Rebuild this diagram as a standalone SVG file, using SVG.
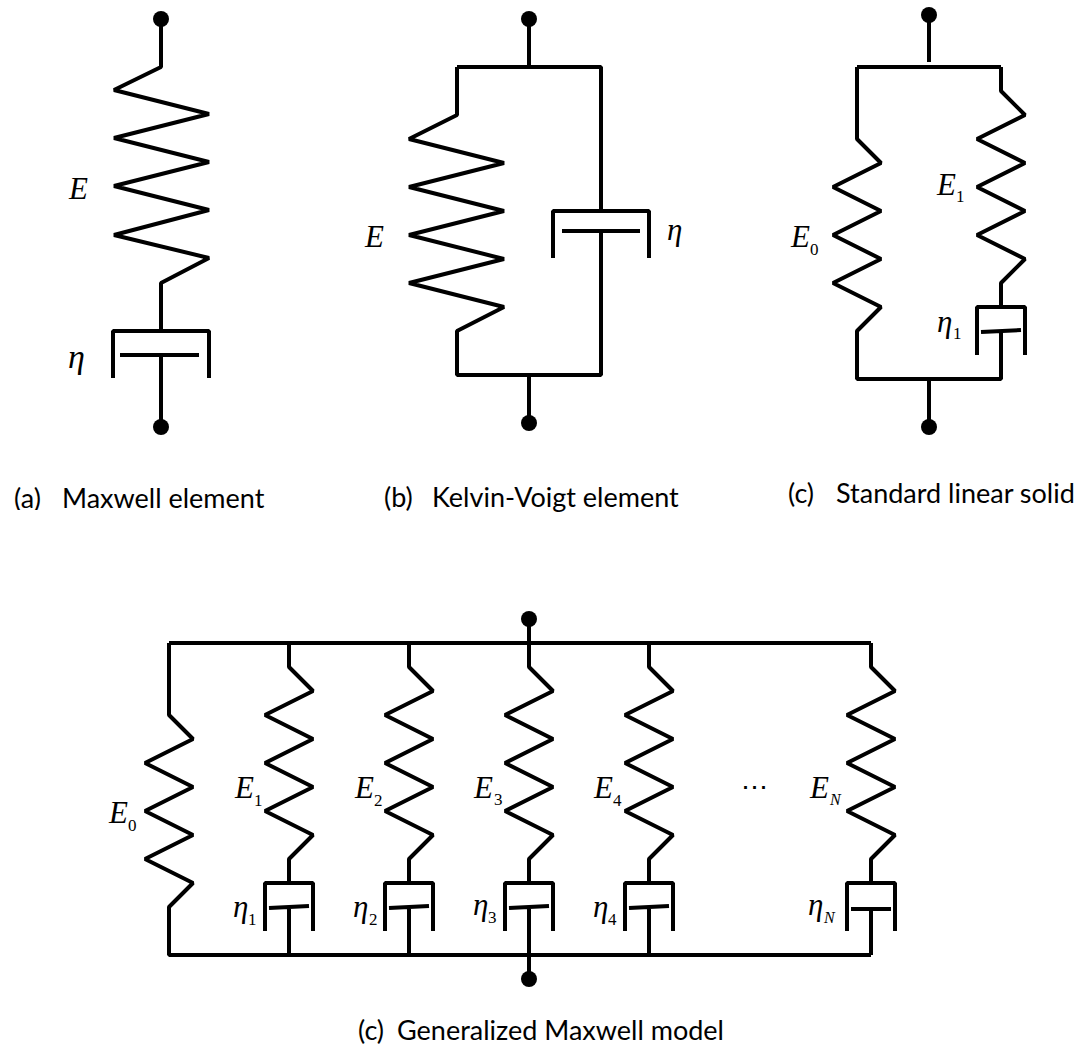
<svg xmlns="http://www.w3.org/2000/svg" width="1090" height="1044" viewBox="0 0 1090 1044">
<defs>
<style>
.w{fill:none;stroke:#000;stroke-width:4;stroke-linejoin:bevel;stroke-linecap:butt}
.d{fill:#000}
.m{font-family:"Liberation Serif",serif;font-style:italic;font-size:31px;fill:#000}
.s{font-family:"Liberation Serif",serif;font-size:17px;fill:#000}
.si{font-family:"Liberation Serif",serif;font-style:italic;font-size:16px;fill:#000}
.e{font-family:"Liberation Serif",serif;font-size:27px;fill:#000}
.c{font-family:Lato,"Open Sans",sans-serif;font-size:27px;fill:#000}
</style>
<clipPath id="ca"><rect x="0" y="470" width="300" height="40"/></clipPath>
<g id="sp"><path class="w" d="M0 0V24L24 48L-24 72L24 96L-24 120L24 144L-24 168L24 192L0 216V240"/></g>
<g id="da"><path class="w" d="M-24 48V0H24V48"/><path class="w" d="M-20 25L20 23M0 24V72"/></g>
</defs>
<rect width="1090" height="1044" fill="#fff"/>
<g id="connectors">
<path class="w" d="M161 19V67L114 90L209 114L114 138L209 162L114 186L209 210L114 235L209 258L161 283V331M113 378V331H209V378M120 355H199M161 355V427"/>
<path class="w" d="M529 19V67M457 67H601V211M457 67V115L409 139L504 163L409 187L504 211L409 235L504 259L409 283L504 307L457 331V375H601V231M553 258V211H649V258M562 231H640M529 375V423"/>
<path class="w" d="M929 15V62M857 67H1001M857 67V139L881 163L833 187L881 211L833 235L881 259L833 283L881 307L857 331V379H1001V355M929 381V427"/>
<use href="#sp" x="1001" y="67"/>
<use href="#da" x="1001" y="307"/>
<path class="w" d="M529 619V643M169 643H871M169 643V715L193 739L145 763L193 787L145 811L193 835L145 859L193 883L169 907V955H871M529 955V979"/>
<use href="#sp" x="289" y="643"/><use href="#da" x="289" y="883"/>
<use href="#sp" x="409" y="643"/><use href="#da" x="409" y="883"/>
<use href="#sp" x="529" y="643"/><use href="#da" x="529" y="883"/>
<use href="#sp" x="649" y="643"/><use href="#da" x="649" y="883"/>
<use href="#sp" x="871" y="643"/>
<path class="w" d="M847 931V883H895V931M851 909H891M871 909V955"/>
</g>
<g id="terminals">
<circle class="d" cx="161" cy="19" r="8"/><circle class="d" cx="161" cy="427" r="8"/>
<circle class="d" cx="529" cy="19" r="8"/><circle class="d" cx="529" cy="423" r="8"/>
<circle class="d" cx="929" cy="15" r="8"/><circle class="d" cx="929" cy="427" r="8"/>
<circle class="d" cx="529" cy="619" r="8"/><circle class="d" cx="529" cy="979" r="8"/>
</g>
<g id="labels">
<text class="m" x="69" y="199">E</text><text class="m" x="68" y="368" style="font-size:34px">η</text>
<text class="m" x="365" y="247">E</text><text class="m" x="667" y="240">η</text>
<text class="m" x="791" y="247">E</text><text class="s" x="810" y="255">0</text>
<text class="m" x="937" y="195">E</text><text class="s" x="956" y="202">1</text>
<text class="m" x="937" y="332">η</text><text class="s" x="953" y="339">1</text>
<text class="m" x="109" y="823">E</text><text class="s" x="128" y="831">0</text>
<text class="m" x="235" y="798">E</text><text class="s" x="254" y="806">1</text>
<text class="m" x="355" y="798">E</text><text class="s" x="374" y="806">2</text>
<text class="m" x="474" y="798">E</text><text class="s" x="494" y="805">3</text>
<text class="m" x="594" y="798">E</text><text class="s" x="613" y="806">4</text>
<text class="m" x="810" y="798">E</text><text class="si" x="830" y="805">N</text>
<text class="m" x="233" y="917">η</text><text class="s" x="248" y="925">1</text>
<text class="m" x="353" y="917">η</text><text class="s" x="369" y="925">2</text>
<text class="m" x="473" y="915">η</text><text class="s" x="488" y="923">3</text>
<text class="m" x="593" y="917">η</text><text class="s" x="608" y="925">4</text>
<text class="m" x="808" y="915">η</text><text class="si" x="824" y="923">N</text>
<text class="e" x="741" y="796">⋯</text>
<text class="c" clip-path="url(#ca)" y="508"><tspan x="14">(a)</tspan><tspan x="62">Maxwell element</tspan></text>
<text class="c" y="507"><tspan x="384">(b)</tspan><tspan x="432">Kelvin-Voigt element</tspan></text>
<text class="c" y="503"><tspan x="788">(c)</tspan><tspan x="836">Standard linear solid</tspan></text>
<text class="c" y="1040"><tspan x="358">(c)</tspan><tspan x="397">Generalized Maxwell model</tspan></text>
</g>
</svg>
